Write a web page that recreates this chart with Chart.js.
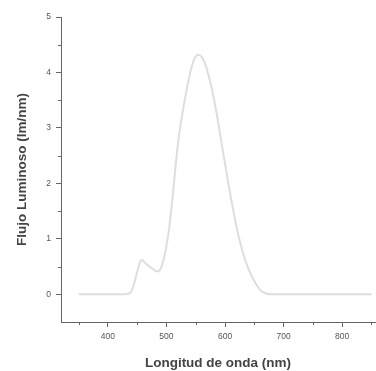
<!DOCTYPE html>
<html>
<head>
<meta charset="utf-8">
<script src="https://cdn.jsdelivr.net/npm/chart.js@4"></script>
<style>
  html, body { margin: 0; padding: 0; background: #fff; }
  #wrap { width: 376px; height: 371px; }
</style>
</head>
<body>
<div id="wrap"><canvas id="c"></canvas></div>
<script>
// wavelength (nm) and luminous flux (lm/nm)
const wavelengths = [350, 430, 435, 440, 445, 450, 455, 458, 465, 475, 485, 490, 495, 500,
    505, 510, 515, 520, 525, 530, 535, 540, 545, 550, 555, 560, 565, 570, 575, 580,
    585, 590, 595, 600, 605, 610, 615, 620, 625, 630, 635, 640, 645, 650, 655, 660,
    665, 670, 680, 850];
const flux = [0, 0, 0.01, 0.05, 0.2, 0.4, 0.58, 0.62, 0.55, 0.47, 0.41, 0.46, 0.62, 0.88,
    1.22, 1.7, 2.25, 2.75, 3.12, 3.43, 3.72, 3.97, 4.17, 4.29, 4.32, 4.28, 4.18, 4.02, 3.82, 3.58,
    3.3, 2.99, 2.67, 2.35, 2.04, 1.74, 1.46, 1.2, 0.97, 0.77, 0.6, 0.46, 0.34, 0.24, 0.15, 0.08,
    0.04, 0.015, 0, 0];
const xTicks = [400, 500, 600, 700, 800];
const yTicks = [0, 1, 2, 3, 4, 5];
const xMinor = [350, 450, 550, 650, 750, 850];
const yMinor = [0.5, 1.5, 2.5, 3.5, 4.5];

const AXIS = '#666';

// short minor tick marks, drawn through the scales
const minorTicks = {
    id: 'minorTicks',
    afterDraw(chart) {
        const { ctx, scales: { x, y } } = chart;
        ctx.save();
        ctx.strokeStyle = AXIS;
        ctx.lineWidth = 1;
        ctx.beginPath();
        xMinor.forEach(v => {
            const px = Math.round(x.getPixelForValue(v)) + 0.5;
            if (px > x.right) return;
            ctx.moveTo(px, x.top);
            ctx.lineTo(px, x.top + 3);
        });
        yMinor.forEach(v => {
            const py = Math.round(y.getPixelForValue(v)) + 0.5;
            ctx.moveTo(y.right, py);
            ctx.lineTo(y.right - 3, py);
        });
        ctx.stroke();
        ctx.restore();
    }
};

new Chart(document.getElementById('c'), {
    type: 'line',
    data: {
        datasets: [{
            data: wavelengths.map((w, i) => ({ x: w, y: flux[i] })),
            borderColor: '#dedede',
            borderWidth: 2,
            pointRadius: 0,
            cubicInterpolationMode: 'monotone',
            fill: false
        }]
    },
    options: {
        responsive: true,
        maintainAspectRatio: false,
        animation: false,
        layout: { padding: { top: 17, right: 1, left: 0, bottom: 0 } },
        plugins: { legend: { display: false }, tooltip: { enabled: false } },
        scales: {
            x: {
                type: 'linear',
                min: 320, max: 856,
                afterBuildTicks: s => { s.ticks = xTicks.map(v => ({ value: v })); },
                afterFit: s => { s.height = 49; },
                border: { display: true, color: AXIS, width: 1 },
                grid: { drawOnChartArea: false, drawTicks: true, tickLength: 5, tickColor: AXIS },
                ticks: { color: '#555', font: { family: 'Liberation Sans', size: 8.5 }, padding: 5, maxRotation: 0 },
                title: {
                    display: true, text: 'Longitud de onda (nm)', color: '#444',
                    font: { family: 'Liberation Sans', size: 13.5, weight: 'bold' },
                    padding: { top: 3, bottom: 0 }
                }
            },
            y: {
                min: -0.5, max: 5,
                afterBuildTicks: s => { s.ticks = yTicks.map(v => ({ value: v })); },
                afterFit: s => { s.width = 61; },
                border: { display: true, color: AXIS, width: 1 },
                grid: { drawOnChartArea: false, drawTicks: true, tickLength: 5, tickColor: AXIS },
                ticks: { color: '#555', font: { family: 'Liberation Sans', size: 8.5 }, padding: 5 },
                title: {
                    display: true, text: 'Flujo Luminoso (lm/nm)', color: '#444',
                    font: { family: 'Liberation Sans', size: 13.5, weight: 'bold' },
                    padding: { top: 14, bottom: 0 }
                }
            }
        }
    },
    plugins: [minorTicks]
});
</script>
</body>
</html>
